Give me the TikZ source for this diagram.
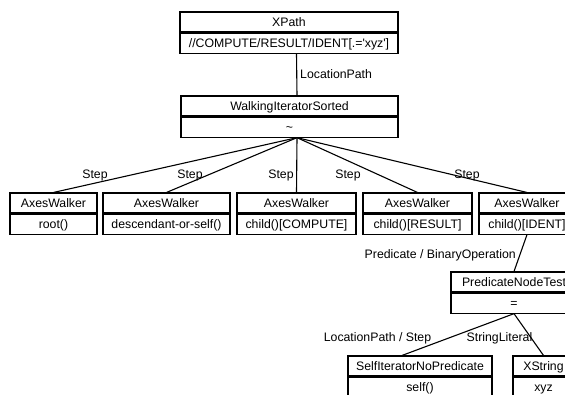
\documentclass[tikz,border=0pt]{standalone}
\usepackage{fontspec}
\setmainfont{Liberation Sans}
\usetikzlibrary{positioning}

\tikzset{
  cell/.style={draw, line width=1.1pt, minimum height=20pt, inner xsep=0pt, inner ysep=0pt,
    text height=9.5pt, text depth=0pt, font=\fontsize{12.3pt}{14pt}\selectfont},
  lbl/.style={inner sep=0pt, font=\fontsize{12.3pt}{14pt}\selectfont},
  link/.style={line width=1.1pt}
}

\begin{document}
\begin{tikzpicture}[x=1pt, y=-1pt]
    \useasboundingbox (0,0) rectangle (565,394);
    \clip (0,0) rectangle (565,394);

    % XPath root box
    \node[cell, minimum width=218pt] (xpath) at (289,22) {XPath};
    \node[cell, minimum width=218pt, below=0pt of xpath] (xpathv)
      {//COMPUTE/RESULT/IDENT[.=\textquotesingle xyz\textquotesingle]};

    % Walking iterator below it
    \node[cell, minimum width=217pt] (wis) at (289.5,106) {WalkingIteratorSorted};
    \node[cell, minimum width=217pt, below=0pt of wis] (wisv) {\textasciitilde};

    \draw[link] ([xshift=7.5pt]xpathv.south) -- ([xshift=7.5pt]wis.north);
    \node[lbl, anchor=west] (lpath) at (300,74) {LocationPath};

    % Row of axes walkers, one Step edge each
    \foreach \n/\x/\w/\t/\lx in {1/53.5/87/root()/95,
                                 2/166.5/127/descendant-or-self()/190,
                                 3/296.5/119/child()[COMPUTE]/281,
                                 4/417.5/109/child()[RESULT]/348,
                                 5/527/96/child()[IDENT]/467} {
      \node[cell, minimum width=\w pt] (aw\n) at (\x,203) {AxesWalker};
      \node[cell, minimum width=\w pt, below=0pt of aw\n] (aw\n v) {\t};
      \draw[link] ([xshift=7.5pt]wisv.south) -- (aw\n.north);
      \node[lbl] (step\n) at (\lx,175) {Step};
    }

    % Predicate under the last walker
    \node[cell, minimum width=126pt] (pnt) at (514,282) {PredicateNodeTest};
    \node[cell, minimum width=126pt, below=0pt of pnt] (pntv) {=};
    \draw[link] (aw5v.south) -- (pnt.north);
    \node[lbl, anchor=east] (pred) at (516,255) {Predicate / BinaryOperation};

    % Operands of the predicate
    \node[cell, minimum width=144pt] (sinp) at (420,366) {SelfIteratorNoPredicate};
    \node[cell, minimum width=144pt, below=0pt of sinp] (sinpv) {self()};
    \node[cell, minimum width=61pt] (xstr) at (543.5,366) {XString};
    \node[cell, minimum width=61pt, below=0pt of xstr] (xstrv) {xyz};

    \draw[link] (pntv.south) -- ([xshift=-18pt]sinp.north);
    \draw[link] (pntv.south) -- (xstr.north);
    \node[lbl] (lpstep) at (377.5,338) {LocationPath / Step};
    \node[lbl] (strlit) at (499.5,338) {StringLiteral};
\end{tikzpicture}
\end{document}
